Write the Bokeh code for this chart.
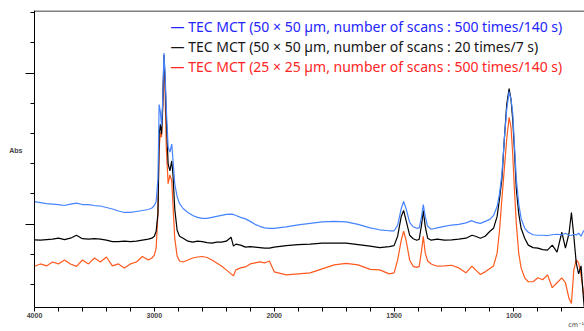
from bokeh.plotting import figure
from bokeh.models import Range1d, FixedTicker, CustomJSTickFormatter, Label, Span, LinearAxis
from bokeh.embed import file_html
from bokeh.resources import INLINE

# ---- data (wavenumber, cm-1) ----
wn = [4000, 3950, 3900, 3850, 3800, 3750, 3700, 3650, 3600, 3550,
      3500, 3450, 3400, 3350, 3300, 3250, 3200, 3150, 3100, 3050,
      3020, 3000, 2985, 2970, 2960, 2950, 2940, 2930, 2920, 2910,
      2900, 2885, 2870, 2855, 2845, 2830, 2810, 2790, 2760, 2720,
      2680, 2640, 2600, 2560, 2520, 2480, 2440, 2400, 2360, 2340,
      2320, 2280, 2240, 2200, 2160, 2120, 2080, 2040, 2000, 1950,
      1900, 1850, 1800, 1750, 1700, 1650, 1600, 1560, 1520, 1500,
      1485, 1470, 1460, 1450, 1435, 1420, 1405, 1395, 1385, 1378,
      1370, 1360, 1345, 1320, 1290, 1260, 1230, 1200, 1175, 1160,
      1140, 1120, 1100, 1085, 1070, 1060, 1050, 1040, 1030, 1020,
      1012, 1005, 998, 990, 980, 970, 955, 940, 920, 900,
      880, 860, 840, 820, 800, 785, 770, 760, 750, 740,
      730, 720, 710, 703]

abs_blue = [0.107, 0.106, 0.105, 0.1045, 0.104, 0.103, 0.1045, 0.1055, 0.104, 0.104,
            0.103, 0.1025, 0.101, 0.0995, 0.0975, 0.096, 0.096, 0.097, 0.098, 0.099,
            0.1005, 0.103, 0.107, 0.130, 0.205, 0.198, 0.183, 0.210, 0.257, 0.235,
            0.200, 0.162, 0.157, 0.165, 0.150, 0.125, 0.112, 0.105, 0.100, 0.096,
            0.093, 0.091, 0.090, 0.090, 0.091, 0.092, 0.093, 0.094, 0.0943, 0.094,
            0.093, 0.091, 0.0895, 0.087, 0.084, 0.082, 0.0805, 0.080, 0.080, 0.0815,
            0.0835, 0.085, 0.0865, 0.087, 0.0865, 0.084, 0.0805, 0.0785, 0.0775, 0.0775,
            0.083, 0.100, 0.107, 0.100, 0.086, 0.0815, 0.080, 0.0805, 0.092, 0.104,
            0.092, 0.082, 0.079, 0.0805, 0.082, 0.0833, 0.084, 0.0855, 0.0877, 0.086,
            0.085, 0.087, 0.089, 0.093, 0.102, 0.115, 0.135, 0.170, 0.200, 0.218,
            0.210, 0.197, 0.165, 0.130, 0.105, 0.090, 0.080, 0.076, 0.0735, 0.073,
            0.073, 0.0727, 0.0735, 0.074, 0.0733, 0.075, 0.073, 0.0727, 0.074, 0.0733,
            0.075, 0.072, 0.077, 0.0783]

abs_black = [0.0683, 0.068, 0.0685, 0.069, 0.070, 0.0685, 0.070, 0.073, 0.0695, 0.069,
             0.0695, 0.069, 0.068, 0.0665, 0.0665, 0.067, 0.0665, 0.067, 0.068, 0.069,
             0.070, 0.072, 0.077, 0.095, 0.175, 0.185, 0.175, 0.205, 0.255, 0.230,
             0.190, 0.145, 0.138, 0.148, 0.135, 0.100, 0.078, 0.072, 0.070, 0.067,
             0.066, 0.067, 0.0665, 0.0655, 0.065, 0.066, 0.066, 0.067, 0.071, 0.062,
             0.064, 0.063, 0.061, 0.0615, 0.061, 0.0605, 0.060, 0.060, 0.061, 0.0625,
             0.0635, 0.064, 0.065, 0.065, 0.065, 0.0635, 0.062, 0.0605, 0.0615, 0.0625,
             0.072, 0.092, 0.098, 0.088, 0.073, 0.0695, 0.068, 0.069, 0.084, 0.098,
             0.082, 0.070, 0.068, 0.069, 0.068, 0.0683, 0.069, 0.070, 0.073, 0.072,
             0.070, 0.072, 0.077, 0.080, 0.092, 0.110, 0.130, 0.170, 0.205, 0.221,
             0.210, 0.190, 0.160, 0.120, 0.095, 0.080, 0.070, 0.063, 0.0605, 0.060,
             0.0585, 0.058, 0.063, 0.056, 0.076, 0.060, 0.075, 0.096, 0.072, 0.045,
             0.034, 0.042, 0.010, -0.010]

abs_red = [0.0417, 0.044, 0.042, 0.046, 0.044, 0.048, 0.044, 0.0415, 0.048, 0.044,
           0.050, 0.046, 0.051, 0.042, 0.044, 0.040, 0.044, 0.046, 0.0515, 0.048,
           0.050, 0.053, 0.060, 0.095, 0.160, 0.177, 0.172, 0.200, 0.250, 0.215,
           0.160, 0.125, 0.134, 0.128, 0.105, 0.070, 0.052, 0.047, 0.046, 0.048,
           0.050, 0.051, 0.0515, 0.0505, 0.048, 0.045, 0.042, 0.038, 0.034, 0.032,
           0.038, 0.040, 0.041, 0.044, 0.045, 0.046, 0.045, 0.047, 0.036, 0.033,
           0.034, 0.035, 0.039, 0.043, 0.0445, 0.043, 0.0385, 0.038, 0.034, 0.035,
           0.048, 0.068, 0.077, 0.068, 0.048, 0.0415, 0.0405, 0.0415, 0.058, 0.072,
           0.055, 0.047, 0.044, 0.0417, 0.042, 0.0427, 0.040, 0.035, 0.0417, 0.038,
           0.0333, 0.036, 0.0395, 0.042, 0.055, 0.078, 0.110, 0.140, 0.170, 0.192,
           0.182, 0.155, 0.120, 0.085, 0.055, 0.040, 0.030, 0.026, 0.026, 0.030,
           0.028, 0.033, 0.020, 0.025, 0.030, 0.025, 0.009, 0.004, 0.038, 0.048,
           0.045, 0.033, 0.015, 0.010]

legend_labels = [
    "\u2014 TEC MCT (50 \u00d7 50 \u00b5m, number of scans : 500 times/140 s)",
    "\u2014 TEC MCT (50 \u00d7 50 \u00b5m, number of scans : 20 times/7 s)",
    "\u2014 TEC MCT (25 \u00d7 25 \u00b5m, number of scans : 500 times/140 s)",
]
x_tick_wn = [4000, 3000, 2000, 1500, 1000]
x_tick_labels = ["4000", "3000", "2000", "1500", "1000"]
x_minor_wn = [3800, 3600, 3400, 3200, 2800, 2600, 2400, 2200,
              1900, 1800, 1700, 1600, 1400, 1300, 1200, 1100, 900, 800, 700]
y_major = [0.0843, 0.2367]
y_minor = [0.0237, 0.054, 0.1147, 0.1453, 0.1757, 0.206, 0.2673, 0.298]
x_unit_label = "cm\u207b\u00b9"


# the x axis is compressed by 2 above 2000 cm-1 (usual FTIR display)
def to_u(w):
    return w if w <= 2000 else 2000 + (w - 2000) / 2


xu = [to_u(w) for w in wn]

line_colors = ["#4684ff", "#000000", "#ff5a1e"]
text_colors = ["#2424ff", "#161616", "#ff2424"]

p = figure(width=584, height=331, x_range=Range1d(3000, 705.5), y_range=Range1d(0, 0.300),
           output_backend="svg", toolbar_location=None,
           min_border_left=34, min_border_right=0, min_border_top=10, min_border_bottom=21)
p.title.visible = False
p.xgrid.visible = False
p.ygrid.visible = False
p.outline_line_color = None
p.background_fill_color = "white"
p.border_fill_color = "white"

p.line(xu, abs_red, line_color=line_colors[2], line_width=1.2)
p.line(xu, abs_black, line_color=line_colors[1], line_width=1.2)
p.line(xu, abs_blue, line_color=line_colors[0], line_width=1.2)

p.add_layout(Span(location=0.2995, dimension="width", line_color="black", line_width=1.2))

# x axis
xa = p.xaxis[0]
xa.ticker = FixedTicker(ticks=[to_u(w) for w in x_tick_wn],
                        minor_ticks=[to_u(w) for w in x_minor_wn])
xa.major_label_overrides = {int(to_u(w)): lab for w, lab in zip(x_tick_wn, x_tick_labels)}
xa.major_tick_in = 0
xa.major_tick_out = 4
xa.minor_tick_in = 0
xa.minor_tick_out = 4
xa.major_label_standoff = 1
xa.major_label_text_font = "Liberation Sans"
xa.major_label_text_font_size = "7px"
xa.major_label_text_font_style = "bold"
xa.major_label_text_color = "#444444"
xa.axis_line_color = "black"
xa.major_tick_line_color = "black"
xa.minor_tick_line_color = "black"

# unit label under the right end of the x axis (helper axis carrying only that text)
p.extra_x_ranges = {"unit": Range1d(0, 1000)}
ua = LinearAxis(x_range_name="unit", ticker=FixedTicker(ticks=[985], minor_ticks=[]))
ua.major_label_overrides = {985: x_unit_label}
ua.axis_line_color = None
ua.major_tick_line_color = None
ua.minor_tick_line_color = None
ua.major_tick_in = 0
ua.major_tick_out = 0
ua.minor_tick_in = 0
ua.minor_tick_out = 0
ua.major_label_standoff = 0
ua.major_label_text_font = "DejaVu Sans"
ua.major_label_text_font_size = "6.5px"
ua.major_label_text_color = "#444444"
p.add_layout(ua, "below")

# y axis
ya = p.yaxis[0]
ya.ticker = FixedTicker(ticks=y_major, minor_ticks=y_minor)
ya.formatter = CustomJSTickFormatter(code="return ''")
ya.major_tick_in = 0
ya.major_tick_out = 9
ya.minor_tick_in = 0
ya.minor_tick_out = 4
ya.major_label_standoff = 0
ya.axis_line_color = "black"
ya.major_tick_line_color = "black"
ya.minor_tick_line_color = "black"
ya.axis_label = "Abs\n\n"
ya.axis_label_orientation = "horizontal"
ya.axis_label_standoff = 3
ya.axis_label_text_font = "Liberation Sans"
ya.axis_label_text_font_size = "7px"
ya.axis_label_text_font_style = "bold"
ya.axis_label_text_color = "#444444"

# legend (coloured text)
for i, (lab, col) in enumerate(zip(legend_labels, text_colors)):
    p.add_layout(Label(x=136, y=281 - 20 * i, x_units="screen", y_units="screen",
                       text=lab, text_color=col, text_font="Noto Sans",
                       text_font_size="14px", text_baseline="middle"))

open("out.html", "w").write(file_html(p, INLINE))
